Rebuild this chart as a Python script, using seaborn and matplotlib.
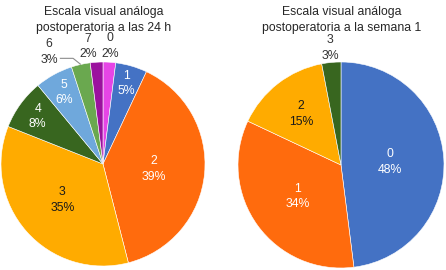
import numpy as np
import matplotlib
matplotlib.use("Agg")
import matplotlib.pyplot as plt
import seaborn as sns

sns.set_theme(style="white")
plt.rcParams['font.family'] = ['Liberation Sans', 'DejaVu Sans']

# ---- data ----
title_24h = "Escala visual análoga\npostoperatoria a las 24 h"
cats_24h = ["0", "1", "2", "3", "4", "5", "6", "7"]
pct_24h = [2, 5, 39, 35, 8, 6, 3, 2]

title_w1 = "Escala visual análoga\npostoperatoria a la semana 1"
cats_w1 = ["0", "1", "2", "3"]
pct_w1 = [48, 34, 15, 3]

# ---- styles ----
col = {"0": "#E645E6", "1": "#4472C4", "2": "#FF6B0D", "3": "#FFAB00",
       "4": "#38661F", "5": "#6FA8DC", "6": "#6AA84F", "7": "#9B119E"}
pal_24h = sns.color_palette([col[c] for c in cats_24h])
pal_w1 = sns.color_palette([col[c] for c in ["1", "2", "3", "4"]])

dist_24h = [1.16, 0.82, 0.5, 0.53, 0.79, 0.8, 1.22, 1.16]
shift_24h = [0, 0, 0, 0, 0, 0, 13, 3.6]
tcol_24h = ["#333333", "white", "white", "#1a1a1a", "white", "white", "#333333", "#333333"]

dist_w1 = [0.48, 0.52, 0.63, 1.14]
shift_w1 = [0, 0, 0, 0]
tcol_w1 = ["white", "white", "#1a1a1a", "#333333"]

FS = 8.8
LS = 1.4
W, H = 446, 270
fig = plt.figure(figsize=(W / 100, H / 100), dpi=100)


def draw(rect, cats, vals, pal, dists, shifts, tcols, leader=None):
    ax = fig.add_axes(rect)
    wedges, _ = ax.pie(vals, colors=pal, startangle=90, counterclock=False,
                       radius=1.0, wedgeprops=dict(edgecolor="white", linewidth=0.4))
    ax.set_xlim(-1, 1)
    ax.set_ylim(-1, 1)
    ax.set_aspect("equal")
    ax.axis("off")
    for i, (w, c, v) in enumerate(zip(wedges, cats, vals)):
        mid = np.deg2rad((w.theta1 + w.theta2) / 2)
        ang = mid + np.deg2rad(shifts[i])
        x, y = dists[i] * np.cos(ang), dists[i] * np.sin(ang)
        ax.text(x, y, f"{c}\n{v}%", ha="center", va="center", fontsize=FS,
                color=tcols[i], linespacing=LS, clip_on=False)
        if leader is not None and i == leader:
            px, py = np.cos(mid), np.sin(mid)
            ex, ey = px - 0.075, py + 0.06
            ax.plot([px, ex, ex - 0.13], [py, ey, ey], color="#8c8c8c",
                    lw=0.8, clip_on=False, solid_capstyle="butt")
    return ax


draw([1 / W, 4 / H, 204 / W, 204 / H], cats_24h, pct_24h, pal_24h,
     dist_24h, shift_24h, tcol_24h, leader=6)
draw([238 / W, 2 / H, 206 / W, 206 / H], cats_w1, pct_w1, pal_w1,
     dist_w1, shift_w1, tcol_w1)

fig.text(104 / W, 1 - 20 / H, title_24h, ha="center", va="center",
         fontsize=FS, color="#262626", linespacing=LS)
fig.text(342 / W, 1 - 20 / H, title_w1, ha="center", va="center",
         fontsize=FS, color="#262626", linespacing=LS)

fig.savefig("out.png", dpi=100)
